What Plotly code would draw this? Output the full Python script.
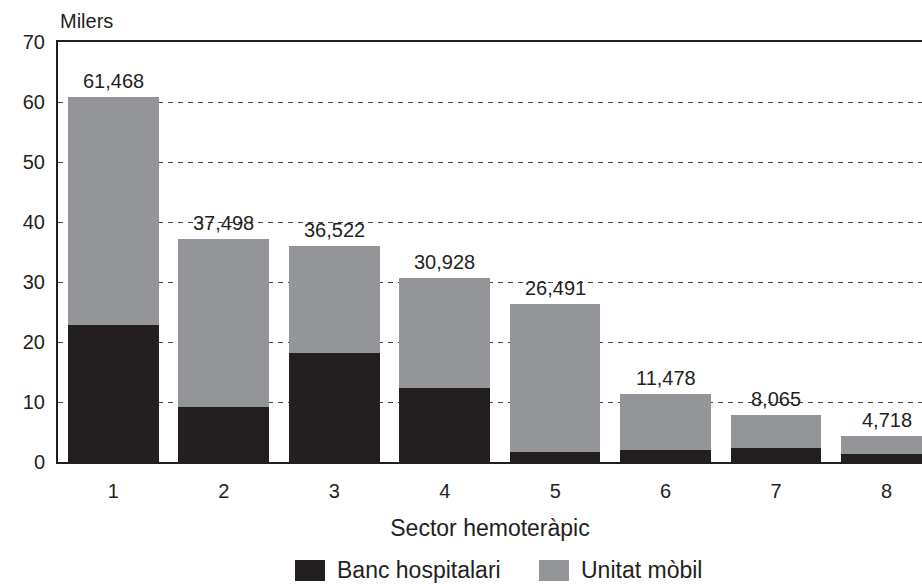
import plotly.graph_objects as go

sectors = [1, 2, 3, 4, 5, 6, 7, 8]
banc = [22.8, 9.2, 18.2, 12.3, 1.7, 2.05, 2.4, 1.4]
unitat = [38.1, 27.9, 17.8, 18.4, 24.6, 9.35, 5.4, 2.93]
total_labels = ["61,468", "37,498", "36,522", "30,928", "26,491", "11,478", "8,065", "4,718"]
y_ticks = [0, 10, 20, 30, 40, 50, 60, 70]

BLACK = "#231f20"
GRAY = "#939598"
FONT = "Liberation Sans, Arial, sans-serif"

fig = go.Figure()
fig.add_trace(go.Bar(x=sectors, y=banc, name="Banc hospitalari",
                     marker=dict(color=BLACK, line=dict(width=0))))
fig.add_trace(go.Bar(x=sectors, y=unitat, name="Unitat mòbil",
                     marker=dict(color=GRAY, line=dict(width=0))))

totals = [b + u for b, u in zip(banc, unitat)]
for x, t, lab in zip(sectors, totals, total_labels):
    fig.add_annotation(x=x, y=t, text=lab, showarrow=False, yanchor="bottom",
                       yshift=3, font=dict(size=20, color=BLACK, family=FONT))

fig.add_annotation(xref="paper", yref="paper", x=0, y=1, xanchor="left", yanchor="bottom",
                   yshift=8, text="Milers", showarrow=False,
                   font=dict(size=20, color=BLACK, family=FONT))

# manual legend
legend_items = [("Banc hospitalari", BLACK, 0.2743), ("Unitat mòbil", GRAY, 0.5567)]
for name, col, x0 in legend_items:
    fig.add_shape(type="rect", xref="paper", yref="paper", x0=x0, x1=x0 + 0.0347,
                  y0=-0.2833, y1=-0.2333, fillcolor=col, line=dict(width=0))
    fig.add_annotation(xref="paper", yref="paper", x=x0 + 0.0463, y=-0.257,
                       xanchor="left", yanchor="middle", text=name, showarrow=False,
                       font=dict(size=23, color=BLACK, family=FONT))

fig.update_layout(
    width=922, height=587,
    margin=dict(l=58, r=0, t=42, b=125),
    barmode="stack", bargap=0.18,
    plot_bgcolor="white", paper_bgcolor="white",
    showlegend=False,
    font=dict(family=FONT, size=20, color=BLACK),
)
fig.update_xaxes(
    range=[0.5, 8.32], tickmode="array", tickvals=sectors,
    ticktext=[str(s) for s in sectors], ticks="", ticklabelstandoff=10,
    showline=True, linecolor=BLACK, linewidth=2, mirror=True,
    showgrid=False, zeroline=False,
    title=dict(text="Sector hemoteràpic", font=dict(size=23, color=BLACK), standoff=19),
    tickfont=dict(size=20, color=BLACK),
)
fig.update_yaxes(
    range=[0, 70], tickmode="array", tickvals=y_ticks, ticks="",
    ticklabelstandoff=7,
    showline=True, linecolor=BLACK, linewidth=2,
    showgrid=True, gridcolor="#444444", gridwidth=1, griddash="5px,5px",
    zeroline=False, tickfont=dict(size=20, color=BLACK),
)

fig.write_html(
    "out.html",
    config={"displayModeBar": False},
    post_script="document.body.style.margin='0';document.body.style.padding='0';document.body.style.overflow='hidden';",
)
